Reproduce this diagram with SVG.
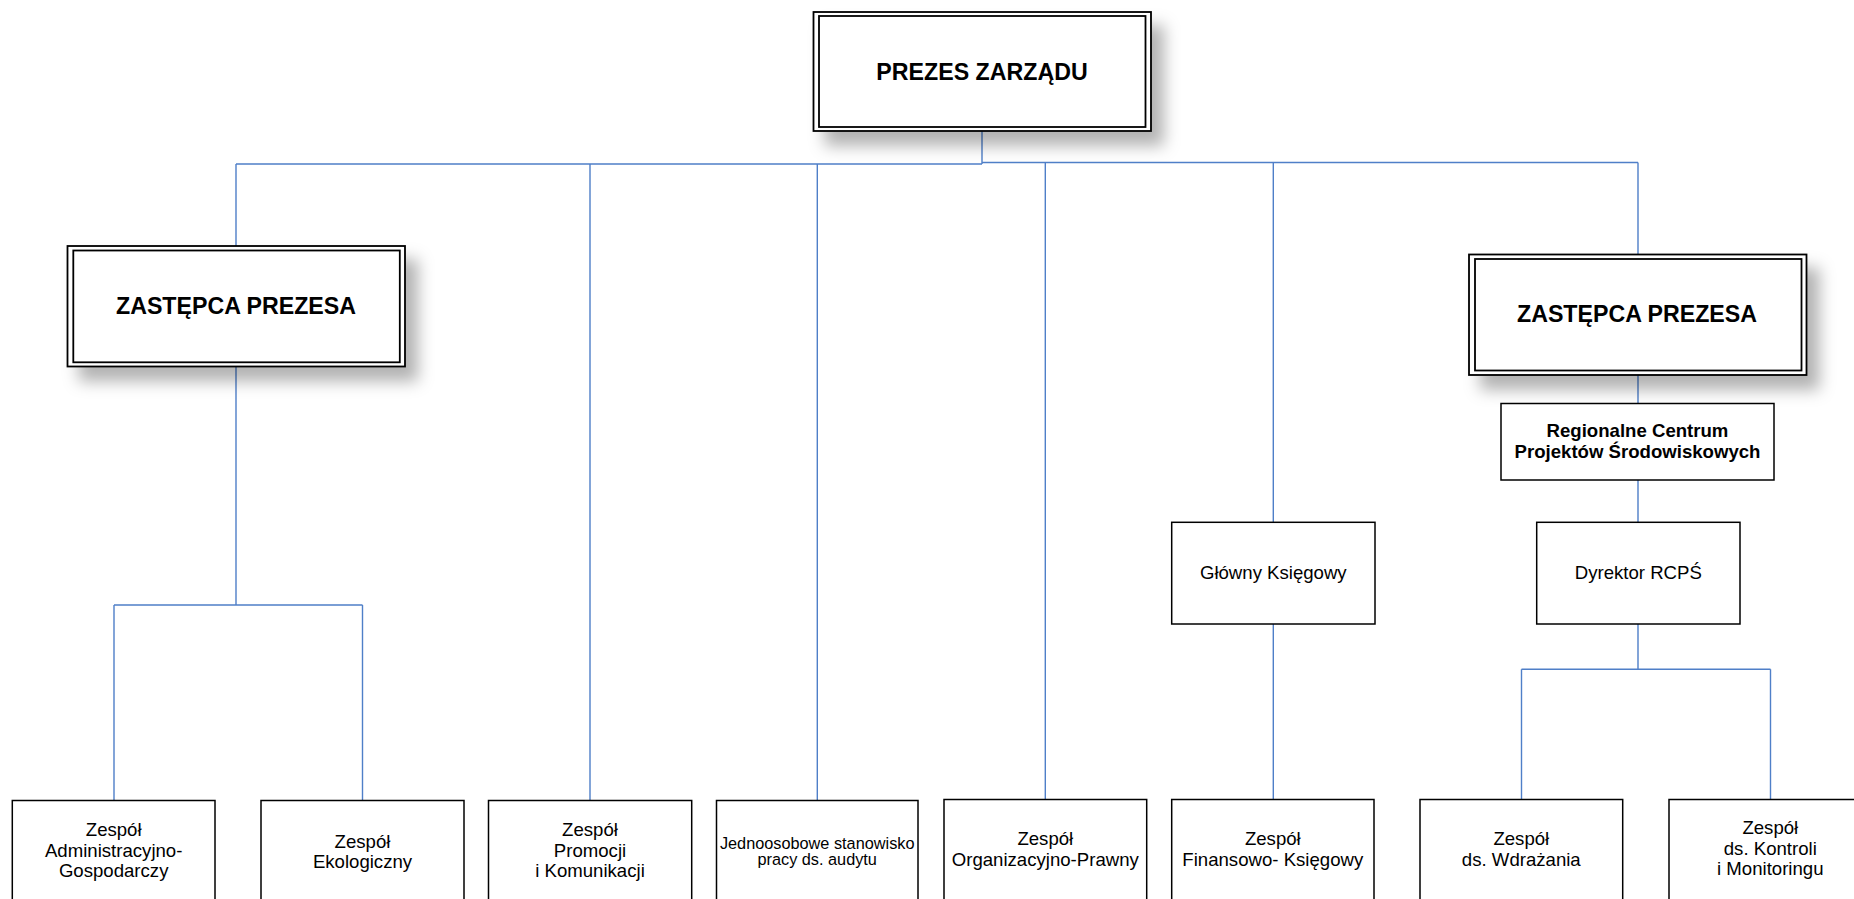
<svg xmlns="http://www.w3.org/2000/svg" width="1854" height="899" viewBox="0 0 1854 899">
<defs>
<filter id="sh" x="-20%" y="-40%" width="150%" height="190%">
<feDropShadow dx="12" dy="14" stdDeviation="8" flood-color="#000" flood-opacity="0.3"/>
</filter>
<style>
.c{fill:none;stroke:#4f7fc8;stroke-width:1.4}
.o{fill:#fff;stroke:#000;stroke-width:1.8}
.i{fill:none;stroke:#000;stroke-width:1.8}
.b{fill:#fff;stroke:#000;stroke-width:1.5}
.tb{font-family:"Liberation Sans",Arial,sans-serif;font-weight:bold;font-size:23.2px;text-anchor:middle;fill:#000}
.tm{font-family:"Liberation Sans",Arial,sans-serif;font-weight:bold;font-size:18.6px;text-anchor:middle;fill:#000}
.t{font-family:"Liberation Sans",Arial,sans-serif;font-size:18.6px;text-anchor:middle;fill:#000}
.ts{font-family:"Liberation Sans",Arial,sans-serif;font-size:16.3px;text-anchor:middle;fill:#000}
</style>
</defs>
<rect width="1854" height="899" fill="#fff"/>
<g id="connectors">
<path class="c" d="M982 130V164M236 164H982M982 162.5H1638"/>
<path class="c" d="M236 164V246M590 164V800M817.3 164V800M1045.3 162.5V800M1273.3 162.5V522M1273.3 624V800M1638 162.5V254.5"/>
<path class="c" d="M236 366.5V605M114 605H362.5M114 605V800M362.5 605V800"/>
<path class="c" d="M1638 375V403.5M1638 480V522M1638 624V669.3M1521.5 669.3H1770.5M1521.5 669.3V800M1770.5 669.3V800"/>
</g>
<g id="prezes">
<rect class="o" x="813.5" y="12" width="337.5" height="119" filter="url(#sh)"/>
<rect class="i" x="819" y="16" width="326.5" height="111"/>
<text class="tb" x="982" y="80">PREZES ZARZĄDU</text>
</g>
<g id="zastepca-lewy">
<rect class="o" x="67.5" y="246" width="337.5" height="120.5" filter="url(#sh)"/>
<rect class="i" x="73.3" y="250.5" width="326.5" height="111.8"/>
<text class="tb" x="236" y="313.5">ZASTĘPCA PREZESA</text>
</g>
<g id="zastepca-prawy">
<rect class="o" x="1469" y="254.5" width="337.5" height="120.5" filter="url(#sh)"/>
<rect class="i" x="1475" y="259" width="326.5" height="111.5"/>
<text class="tb" x="1637" y="322">ZASTĘPCA PREZESA</text>
</g>
<g id="rcps">
<rect class="b" x="1501" y="403.5" width="273" height="76.5"/>
<text class="tm" x="1637.5" y="436.7">Regionalne Centrum</text>
<text class="tm" x="1637.5" y="458.3">Projektów Środowiskowych</text>
</g>
<g id="glowny-ksiegowy">
<rect class="b" x="1171.7" y="522.3" width="203.3" height="101.7"/>
<text class="t" x="1273.3" y="579.3">Główny Księgowy</text>
</g>
<g id="dyrektor-rcps">
<rect class="b" x="1536.7" y="522.3" width="203.3" height="101.7"/>
<text class="t" x="1638.3" y="579.3">Dyrektor RCPŚ</text>
</g>
<g id="zespol-adm">
<rect class="b" x="12.3" y="800.5" width="202.7" height="110"/>
<text class="t" x="113.7" y="836"><tspan x="113.7">Zespół</tspan><tspan x="113.7" dy="20.5">Administracyjno-</tspan><tspan x="113.7" dy="20.5">Gospodarczy</tspan></text>
</g>
<g id="zespol-eko">
<rect class="b" x="261" y="800.5" width="203" height="110"/>
<text class="t" x="362.5" y="847.5"><tspan x="362.5">Zespół</tspan><tspan x="362.5" dy="20.5">Ekologiczny</tspan></text>
</g>
<g id="zespol-promocji">
<rect class="b" x="488.5" y="800.5" width="203.2" height="110"/>
<text class="t" x="590" y="836"><tspan x="590">Zespół</tspan><tspan x="590" dy="20.5">Promocji</tspan><tspan x="590" dy="20.5">i Komunikacji</tspan></text>
</g>
<g id="audyt">
<rect class="b" x="716.5" y="800.5" width="201.5" height="110"/>
<text class="ts" x="817.2" y="849"><tspan x="817.2">Jednoosobowe stanowisko</tspan><tspan x="817.2" dy="15.5">pracy ds. audytu</tspan></text>
</g>
<g id="zespol-org">
<rect class="b" x="944" y="799.5" width="202.7" height="110"/>
<text class="t" x="1045.3" y="845"><tspan x="1045.3">Zespół</tspan><tspan x="1045.3" dy="20.5">Organizacyjno-Prawny</tspan></text>
</g>
<g id="zespol-fin">
<rect class="b" x="1171.7" y="799.5" width="202.3" height="110"/>
<text class="t" x="1272.8" y="845"><tspan x="1272.8">Zespół</tspan><tspan x="1272.8" dy="20.5">Finansowo- Księgowy</tspan></text>
</g>
<g id="zespol-wdrazania">
<rect class="b" x="1420" y="799.5" width="202.7" height="110"/>
<text class="t" x="1521.3" y="845"><tspan x="1521.3">Zespół</tspan><tspan x="1521.3" dy="20.7">ds. Wdrażania</tspan></text>
</g>
<g id="zespol-kontroli">
<rect class="b" x="1669" y="799.5" width="202.7" height="110"/>
<text class="t" x="1770.3" y="834"><tspan x="1770.3">Zespół</tspan><tspan x="1770.3" dy="20.7">ds. Kontroli</tspan><tspan x="1770.3" dy="20.7">i Monitoringu</tspan></text>
</g>
</svg>
